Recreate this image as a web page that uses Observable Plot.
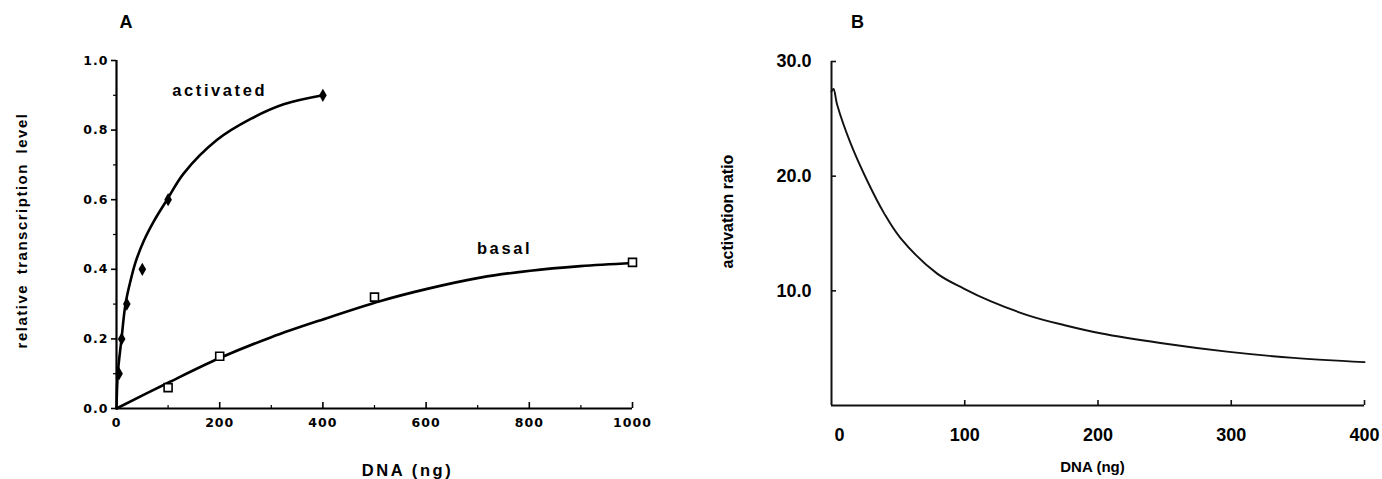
<!DOCTYPE html>
<html>
<head>
<meta charset="utf-8">
<script src="https://cdn.jsdelivr.net/npm/d3@7"></script>
<script src="https://cdn.jsdelivr.net/npm/@observablehq/plot@0.6"></script>
<style>
  body { margin: 0; background: #fff; }
  #wrap { position: relative; width: 1382px; height: 479px; overflow: hidden; background: #fff; }
  #wrap svg { position: absolute; top: 0; }
  .pa g[aria-label="x-axis tick label"] text,
  .pa g[aria-label="y-axis tick label"] text { letter-spacing: 1px; }
  .pa .spaced text { letter-spacing: 2.6px; }
  .pa .ylab text { letter-spacing: 1.5px; word-spacing: 4px; }
</style>
</head>
<body>
<div id="wrap"></div>
<script>
// ---------- Panel A data ----------
const activatedPointsX = [5, 10, 20, 50, 100, 400];
const activatedPointsY = [0.1, 0.2, 0.3, 0.4, 0.6, 0.9];
const activatedCurveX = [0, 2.5, 9.7, 17.4, 27, 36.8, 53, 72, 98, 130, 195, 260, 324, 400];
const activatedCurveY = [0, 0.1, 0.2, 0.3, 0.366, 0.42, 0.482, 0.537, 0.6, 0.675, 0.772, 0.832, 0.874, 0.9];
const basalPointsX = [100, 200, 500, 1000];
const basalPointsY = [0.06, 0.15, 0.32, 0.42];
const basalCurveX = [0, 100, 200, 300, 400, 512, 600, 705, 802, 899, 1000];
const basalCurveY = [0, 0.074, 0.145, 0.205, 0.256, 0.309, 0.343, 0.376, 0.396, 0.409, 0.418];
const aXTicks = [0, 200, 400, 600, 800, 1000];
const aXMinor = [100, 300, 500, 700, 900];
const aYTicks = [0, 0.2, 0.4, 0.6, 0.8, 1.0];
const aYMinor = [0.1, 0.3, 0.5, 0.7, 0.9];

// ---------- Panel B data ----------
const ratioX = [0, 1.5, 4.3, 14.2, 26.8, 39.3, 51.8, 79.3, 99.3, 119.3, 149.3, 175, 201.8, 246.8, 296.8, 346.8, 400];
const ratioY = [27.4, 27.6, 26.2, 22.9, 19.6, 16.8, 14.6, 11.5, 10.2, 9.1, 7.8, 7.0, 6.3, 5.45, 4.7, 4.15, 3.78];
const bXTicks = [0, 100, 200, 300, 400];
const bYTicks = [10, 20, 30];

const zip = (xs, ys) => xs.map((x, i) => ({x, y: ys[i]}));

const fontA = "'Liberation Sans', Arial, Helvetica, sans-serif";
const fontTick = "'DejaVu Sans', 'Liberation Sans', sans-serif";

// ---------- Panel A ----------
const widthA = 700;
const frameHA = 479 - 60 - 71;
const plotA = Plot.plot({
  width: widthA, height: 479,
  marginLeft: 116, marginRight: 68, marginTop: 60, marginBottom: 71,
  x: {domain: [0, 1000]},
  y: {domain: [0, 1]},
  style: {fontFamily: fontA, background: "transparent", overflow: "visible"},
  marks: [
    Plot.axisY(aYTicks, {tickSize: 5, tickPadding: 3, strokeWidth: 1.6, fontSize: 12.5, fontWeight: "bold", fontFamily: fontTick, tickFormat: d => d.toFixed(1), label: null}),
    Plot.axisY(aYMinor, {tickSize: 3, strokeWidth: 1.2, text: null, label: null}),
    Plot.axisX(aXTicks, {tickSize: 0, tickPadding: 10, fontSize: 12.5, fontWeight: "bold", fontFamily: fontTick, tickFormat: d => String(d), label: null}),
    Plot.tickX(aXTicks.slice(1), {x: d => d, insetTop: frameHA - 6, strokeWidth: 1.6}),
    Plot.tickX(aXMinor, {x: d => d, insetTop: frameHA - 3, strokeWidth: 1.2}),
    Plot.ruleX([0], {strokeWidth: 2.2}),
    Plot.ruleY([0], {strokeWidth: 2.2}),
    Plot.line(zip(basalCurveX, basalCurveY), {x: "x", y: "y", curve: "catmull-rom", strokeWidth: 2.6, stroke: "#000"}),
    Plot.line(zip(activatedCurveX, activatedCurveY), {x: "x", y: "y", curve: "catmull-rom", strokeWidth: 2.6, stroke: "#000"}),
    Plot.dot(zip(activatedPointsX, activatedPointsY), {x: "x", y: "y", symbol: "diamond", r: 4, fill: "#000"}),
    Plot.dot(zip(basalPointsX, basalPointsY), {x: "x", y: "y", symbol: "square", r: 4.5, fill: "#fff", stroke: "#000", strokeWidth: 1.6}),
    Plot.text(["activated"], {x: 200, y: 0.912, text: d => d, fontSize: 16.5, fontWeight: "bold", className: "spaced"}),
    Plot.text(["basal"], {x: 752, y: 0.46, text: d => d, fontSize: 16.5, fontWeight: "bold", className: "spaced"}),
    Plot.text(["DNA (ng)"], {frameAnchor: "bottom", textAnchor: "middle", lineAnchor: "middle", dx: 33, dy: 62, text: d => d, fontSize: 16.5, fontWeight: "bold", className: "spaced"}),
    Plot.text(["relative transcription level"], {frameAnchor: "left", textAnchor: "middle", lineAnchor: "middle", dx: -94, dy: -4, rotate: -90, text: d => d, fontSize: 15, fontWeight: "bold", className: "ylab"}),
    Plot.text(["A"], {frameAnchor: "top-left", textAnchor: "middle", lineAnchor: "middle", dx: 9.5, dy: -38, text: d => d, fontSize: 18, fontWeight: "bold"})
  ]
});
plotA.classList.add("pa");
plotA.style.left = "0px";

// ---------- Panel B ----------
const widthB = 682;
const frameWB = 682 - 131 - 18;
const frameHB = 479 - 61 - 74;
const plotB = Plot.plot({
  width: widthB, height: 479,
  marginLeft: 131, marginRight: 18, marginTop: 61, marginBottom: 74,
  x: {domain: [0, 400]},
  y: {domain: [0, 30]},
  style: {fontFamily: fontA, background: "transparent", overflow: "visible"},
  marks: [
    Plot.axisY(bYTicks, {tickSize: 0, tickPadding: 20, fontSize: 18, fontWeight: "bold", tickFormat: d => d.toFixed(1), label: null}),
    Plot.tickY(bYTicks, {y: d => d, insetRight: frameWB - 5, strokeWidth: 1.6, stroke: "#111"}),
    Plot.axisX(bXTicks.slice(1), {tickSize: 0, tickPadding: 23, fontSize: 18, fontWeight: "bold", label: null}),
    Plot.axisX(bXTicks.slice(0, 1), {tickSize: 0, tickPadding: 23, dx: 8, fontSize: 18, fontWeight: "bold", label: null}),
    Plot.tickX(bXTicks.slice(1), {x: d => d, insetTop: frameHB - 5, strokeWidth: 1.6, stroke: "#111"}),
    Plot.ruleX([0], {strokeWidth: 2, stroke: "#111"}),
    Plot.ruleY([0], {strokeWidth: 2, stroke: "#111"}),
    Plot.line(zip(ratioX, ratioY), {x: "x", y: "y", curve: "catmull-rom", strokeWidth: 1.9, stroke: "#111"}),
    Plot.text(["activation ratio"], {frameAnchor: "left", textAnchor: "middle", lineAnchor: "middle", dx: -104, dy: -22, rotate: -90, text: d => d, fontSize: 16, fontWeight: "bold"}),
    Plot.text(["DNA (ng)"], {frameAnchor: "bottom", textAnchor: "middle", lineAnchor: "middle", dx: -5.5, dy: 62, text: d => d, fontSize: 15, fontWeight: "bold"}),
    Plot.text(["B"], {frameAnchor: "top-left", textAnchor: "middle", lineAnchor: "middle", dx: 26, dy: -39, text: d => d, fontSize: 18, fontWeight: "bold"})
  ]
});
plotB.style.left = "700px";

const wrap = document.getElementById("wrap");
wrap.appendChild(plotA);
wrap.appendChild(plotB);
</script>
</body>
</html>
